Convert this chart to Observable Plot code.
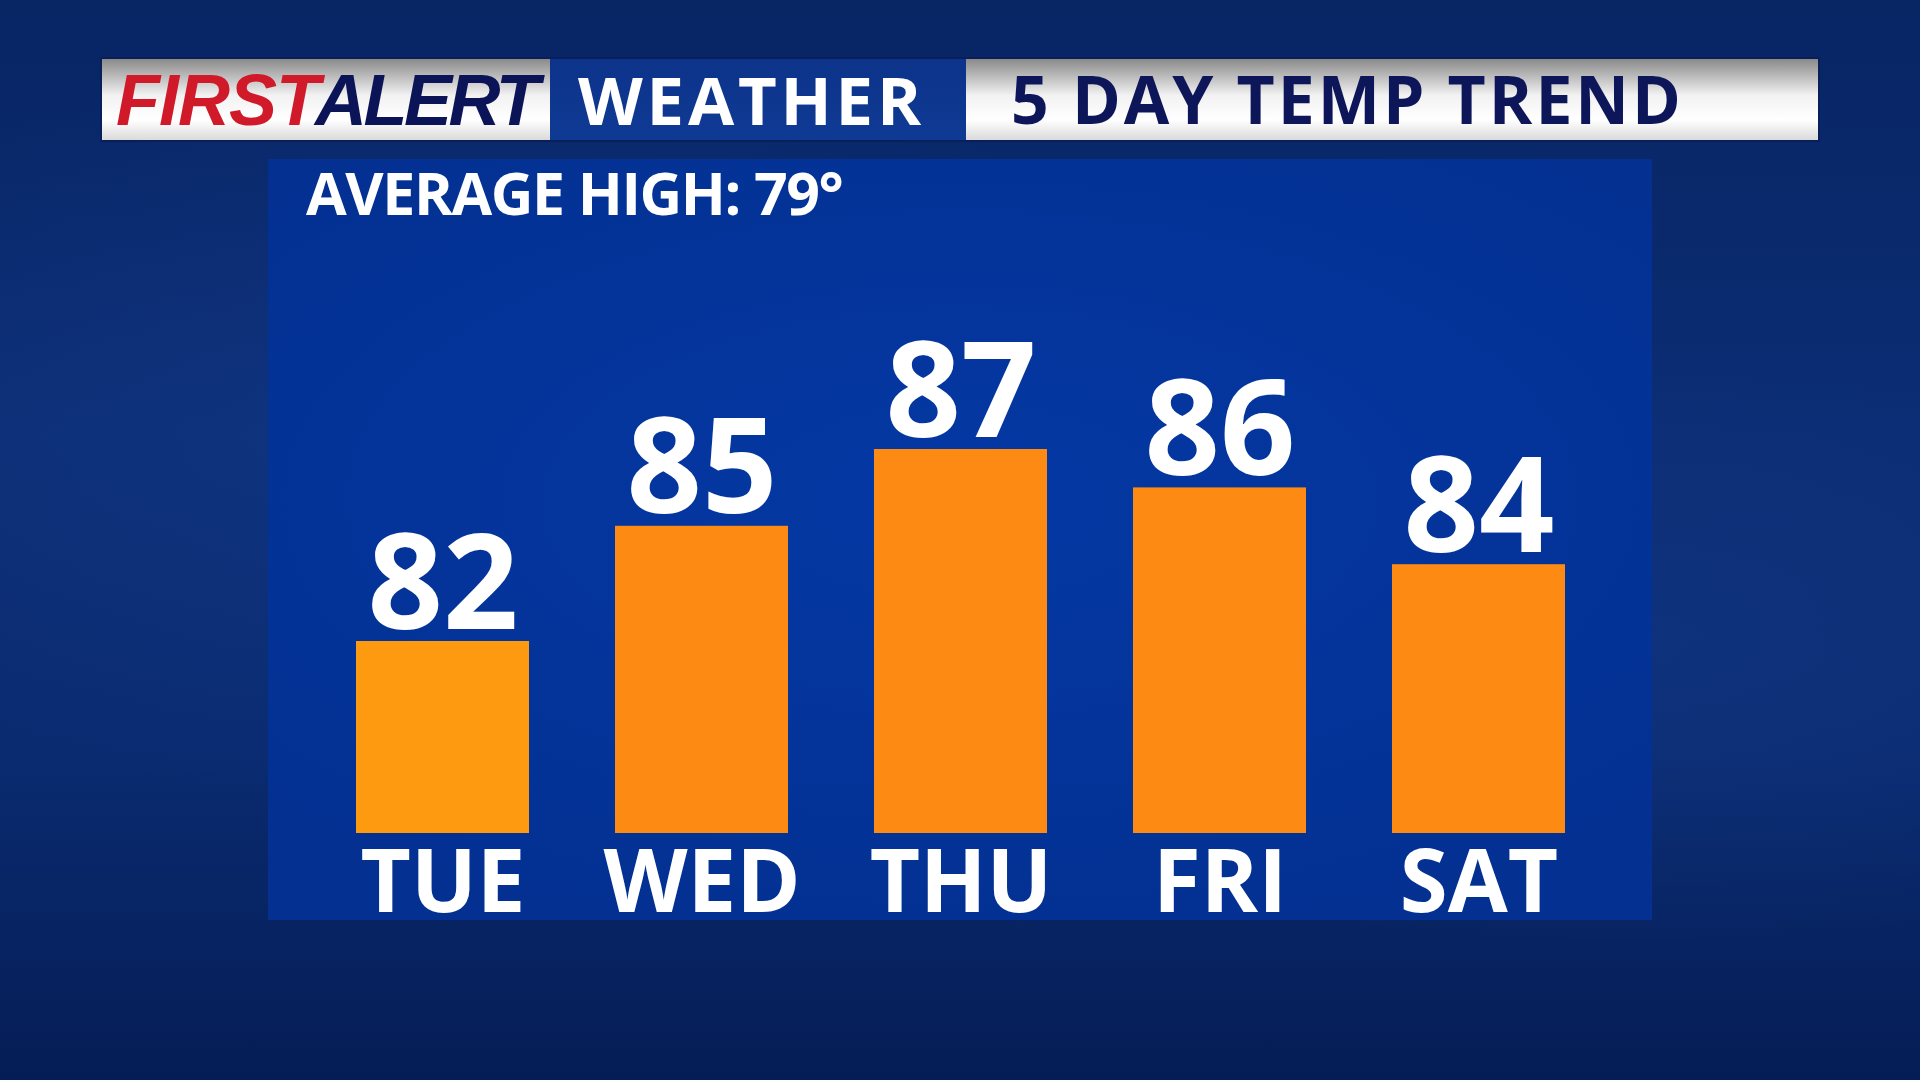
<!DOCTYPE html>
<html>
<head>
<meta charset="utf-8">
<script src="https://cdn.jsdelivr.net/npm/d3@7"></script>
<script src="https://cdn.jsdelivr.net/npm/@observablehq/plot@0.6"></script>
<style>
  html, body { margin: 0; padding: 0; background: #08286a; }
  #stage {
    position: relative; width: 1920px; height: 1080px; overflow: hidden;
    background:
      radial-gradient(ellipse 60% 50% at 25% 40%, rgba(30,70,160,0.30), rgba(0,0,0,0) 70%),
      radial-gradient(ellipse 50% 40% at 85% 60%, rgba(30,70,160,0.25), rgba(0,0,0,0) 70%),
      linear-gradient(180deg, #082564 0%, #0b2d74 40%, #0a2b70 70%, #051d56 100%);
    font-family: "Open Sans", sans-serif;
  }
  #header { position: absolute; left: 100px; top: 57px; width: 1720px; height: 85px; background: #0a1f5a; }
  #header svg { position: absolute; left: 2px; top: 2px; overflow: visible; }
  #panel {
    position: absolute; left: 268px; top: 159px; width: 1384px; height: 761px;
    background: radial-gradient(ellipse 70% 60% at 50% 45%, #0538a4 0%, #04349a 55%, #033091 100%);
  }
  #avg {
    position: absolute; left: 38px; top: 3px; margin: 0;
    font-family: "Open Sans", sans-serif; font-weight: 700; font-size: 59px; line-height: 60px;
    letter-spacing: -1.4px; color: #ffffff; white-space: nowrap;
  }
  #chart { position: absolute; left: 0; top: 0; }
</style>
</head>
<body>
<div id="stage">
  <div id="header">
    <svg width="1716" height="81" xmlns="http://www.w3.org/2000/svg">
      <defs>
        <linearGradient id="silver" x1="0" y1="0" x2="0" y2="1">
          <stop offset="0" stop-color="#8a8a8a"/>
          <stop offset="0.45" stop-color="#f2f2f2"/>
          <stop offset="0.75" stop-color="#ffffff"/>
          <stop offset="1" stop-color="#dadada"/>
        </linearGradient>
        <linearGradient id="blueseg" x1="0" y1="0" x2="0" y2="1">
          <stop offset="0" stop-color="#0d338a"/>
          <stop offset="1" stop-color="#0f3a94"/>
        </linearGradient>
      </defs>
      <rect x="0" y="0" width="448" height="81" fill="url(#silver)"/>
      <rect x="448" y="0" width="416" height="81" fill="url(#blueseg)"/>
      <rect x="864" y="0" width="852" height="81" fill="url(#silver)"/>
      <text x="14" y="66" font-family="'Liberation Sans Narrow','Liberation Sans',sans-serif" font-weight="700" font-style="italic" font-size="72" fill="#d01a2a" letter-spacing="-1">FIRST</text>
      <text x="213" y="66" font-family="'Liberation Sans Narrow','Liberation Sans',sans-serif" font-weight="700" font-style="italic" font-size="72" fill="#0c1458" letter-spacing="-3.5">ALERT</text>
      <text x="476" y="66" font-family="'Open Sans',sans-serif" font-weight="700" font-size="67" fill="#ffffff" letter-spacing="3.8">WEATHER</text>
      <text x="909" y="65" font-family="'Open Sans',sans-serif" font-weight="700" font-size="66" fill="#0e165a" letter-spacing="3">5 DAY TEMP TREND</text>
    </svg>
  </div>
  <div id="panel">
    <div id="avg"></div>
    <div id="chart"></div>
  </div>
</div>
<script>
// ---- data ----
const days = ["TUE", "WED", "THU", "FRI", "SAT"];
const highs = [82, 85, 87, 86, 84];
const averageHigh = 79;
const yDomain = [77, 87];

// ---- styles ----
const barColors = ["#fe9a0f", "#fd8a12", "#fd8a12", "#fd8a12", "#fd8a12"];

const data = days.map((day, i) => ({ day, high: highs[i] }));

document.getElementById("avg").textContent = `AVERAGE HIGH: ${averageHigh}°`;

const chart = Plot.plot({
  width: 1384,
  height: 761,
  marginTop: 290,
  marginBottom: 87,
  marginLeft: 0,
  marginRight: 0,
  style: { background: "transparent", color: "#ffffff", overflow: "visible", fontFamily: "Open Sans, sans-serif" },
  x: { domain: days, padding: 1 / 3, label: null },
  y: { domain: yDomain, axis: null },
  color: { domain: days, range: barColors },
  marks: [
    Plot.barY(data, { x: "day", y: "high", fill: "day", clip: true }),
    Plot.text(data, {
      x: "day", y: "high", text: d => String(d.high),
      dy: -13, lineAnchor: "bottom", fill: "#ffffff",
      fontSize: 132, fontWeight: 700, fontFamily: "Open Sans, sans-serif"
    }),
    Plot.axisX({
      tickSize: 0, tickPadding: 17, fontSize: 87, fontWeight: 700,
      fontFamily: "Open Sans, sans-serif", label: null, fill: "#ffffff"
    })
  ]
});
document.getElementById("chart").appendChild(chart);
</script>
</body>
</html>
